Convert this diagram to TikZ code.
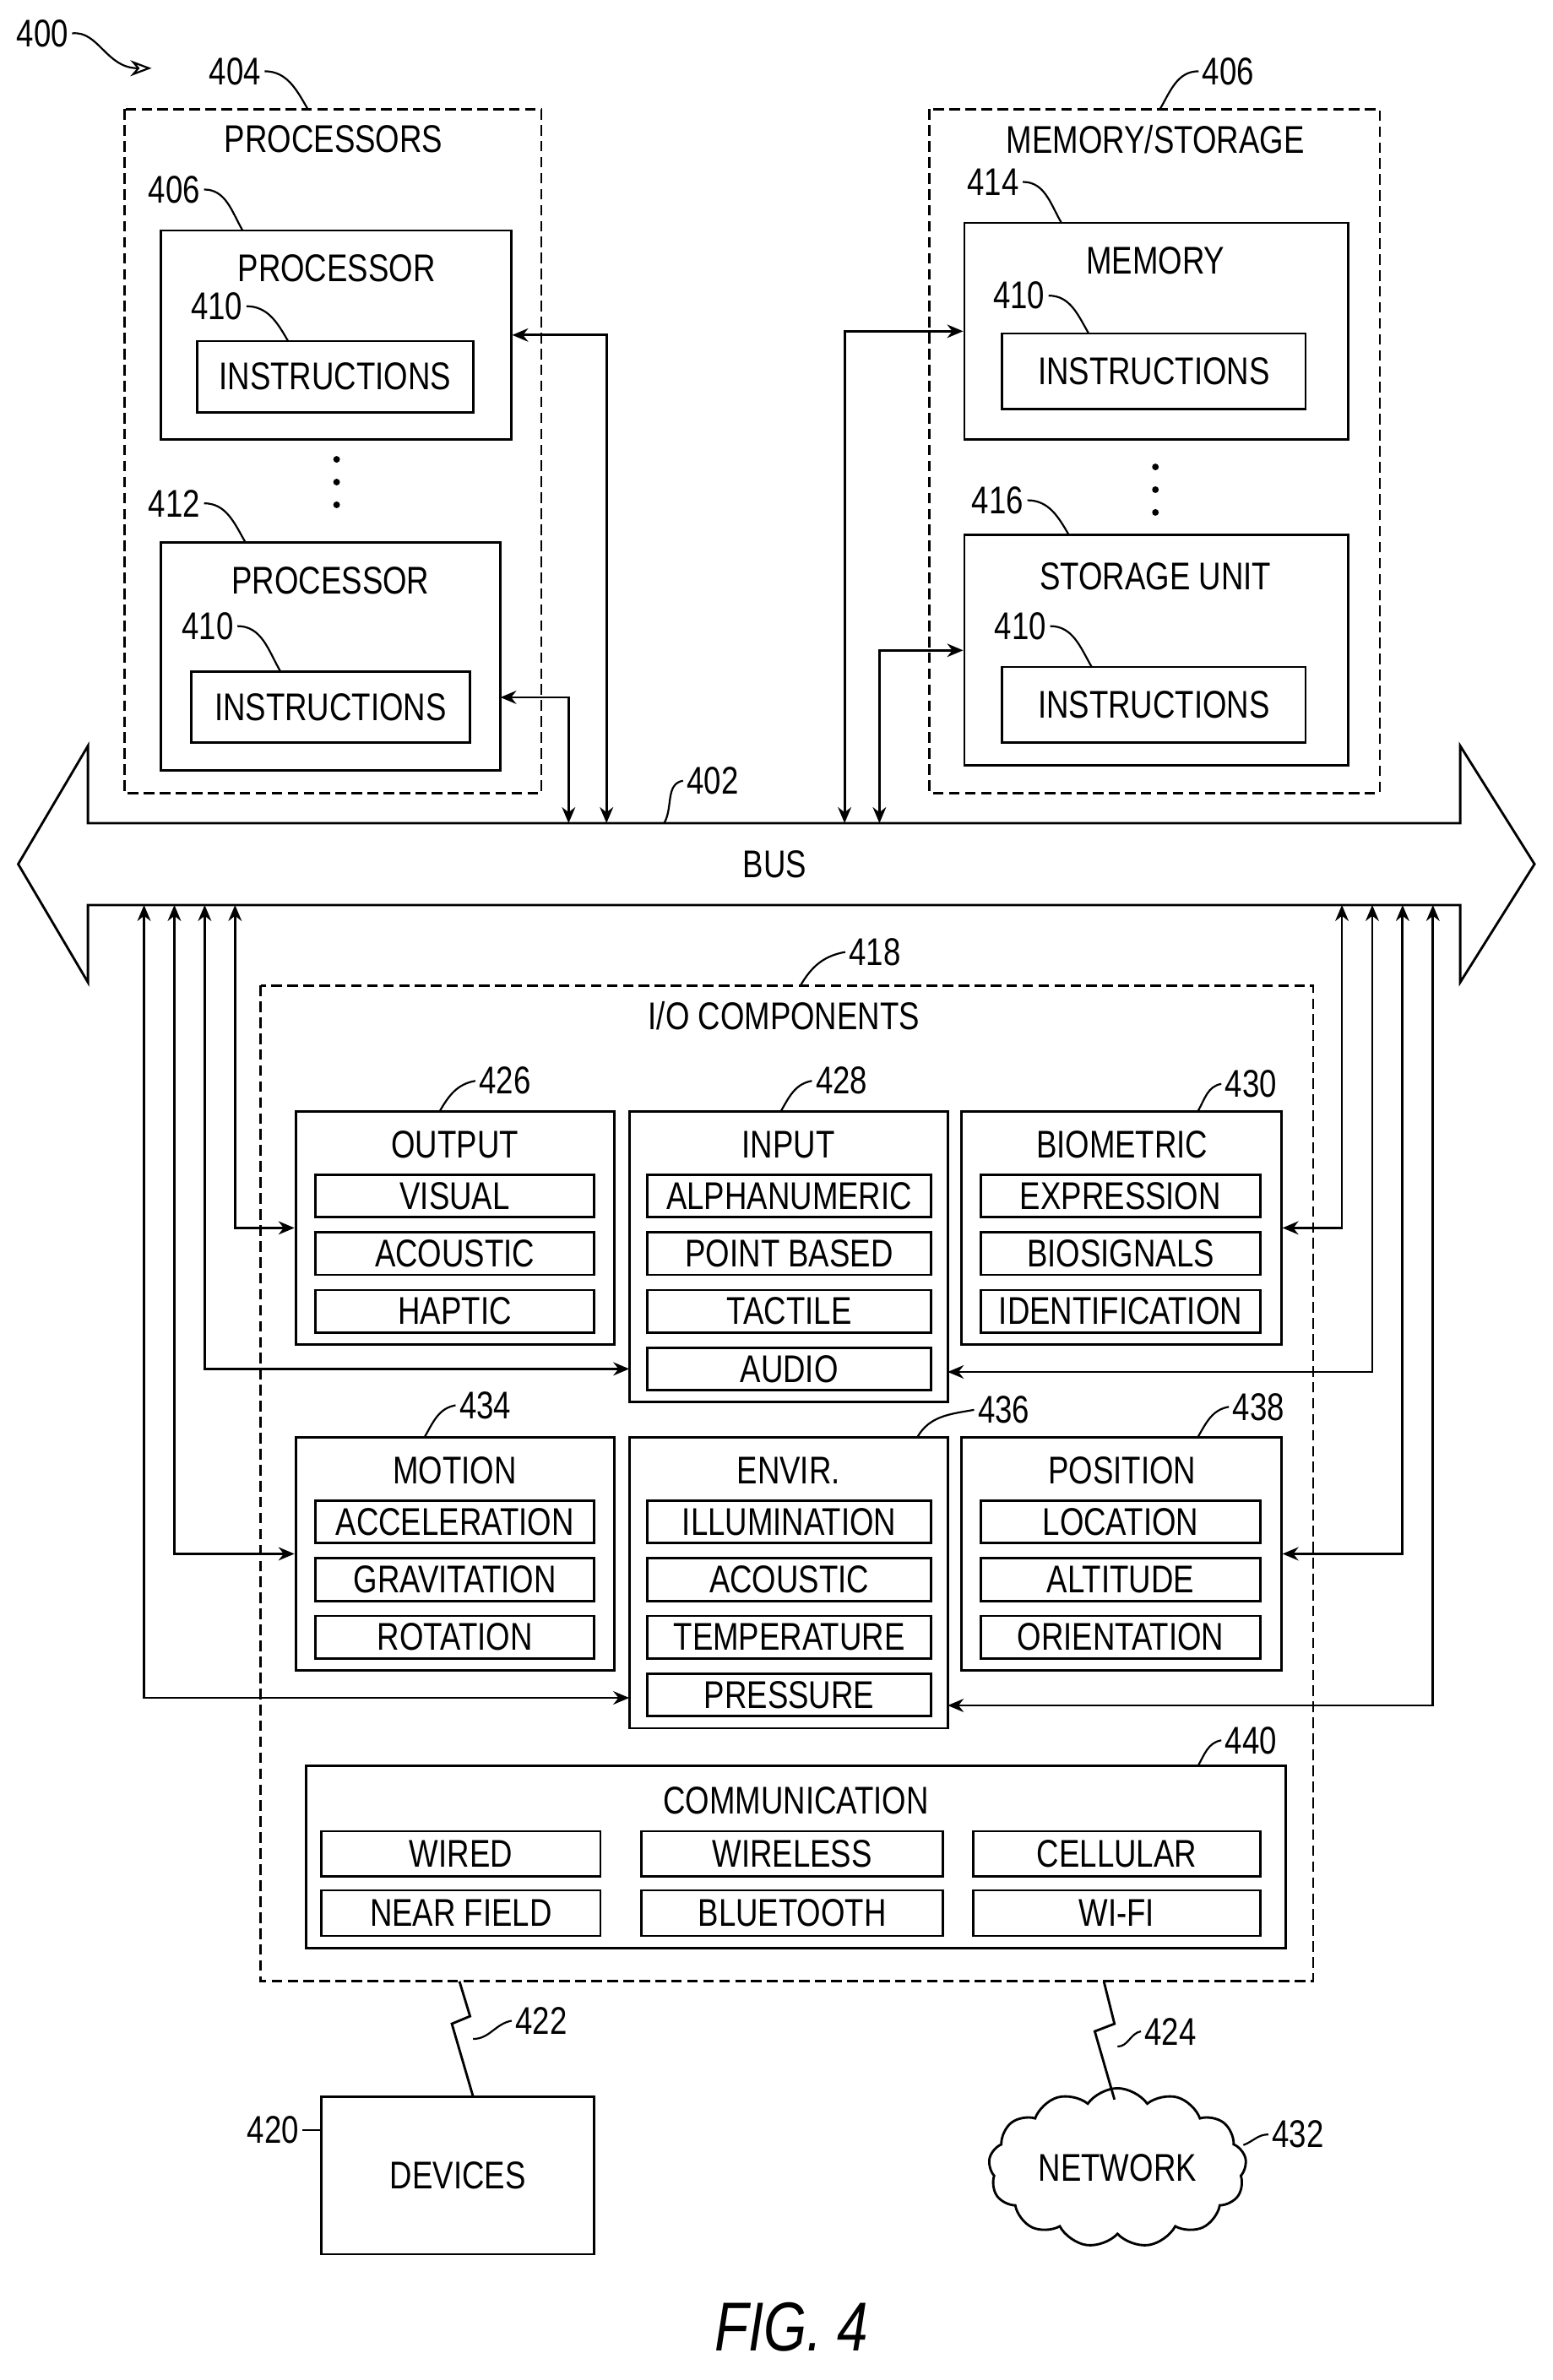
\documentclass[tikz,border=0pt]{standalone}
\usepackage{fontspec}
\setmainfont{Liberation Sans}[FakeStretch=0.8]
\usetikzlibrary{arrows.meta,shapes.symbols}
\newcommand{\bx}[6]{\node[box, minimum width={(#4-#2)*0.02cm}, minimum height={(#5-#3)*0.02cm}] (#1) at ({(#2+#4)/2},{(#3+#5)/2}) {#6};}

\begin{document}
\begin{tikzpicture}[x=0.02cm,y=-0.02cm, line width=0.9pt,
    box/.style={draw, inner sep=0pt, font=\fontsize{14.5}{16}\selectfont},
    lbl/.style={font=\fontsize{14.5}{16}\selectfont, inner sep=1pt},
    conn/.style={{Stealth[length=6pt,width=5pt]}-{Stealth[length=6pt,width=5pt]}},
    lead/.style={line width=0.7pt}]
  \useasboundingbox (0,0) rectangle (1024,1570);

  % reference arrow
  \node[lbl] (n400) at (28,22) {400};
  \draw[lead,-{Stealth[open,length=8pt]}] (n400.east) .. controls (65,20) and (70,45) .. (100,45);

  % processors
  \draw[dash pattern=on 4pt off 2pt] (82,72) rectangle (357,523);
  \node[lbl] at (220,92) {PROCESSORS};
  \node[lbl] (n404) at (155,47) {404};
  \draw[lead] (n404.east) to[out=0,in=120] (203,72);
  \bx{proc1}{106}{152}{337}{290}{}
  \node[lbl] at (222,177) {PROCESSOR};
  \bx{ins1}{130}{225}{312}{272}{INSTRUCTIONS}
  \node[lbl] (n406a) at (115,125) {406};
  \draw[lead] (n406a.east) to[out=0,in=120] (160,152);
  \node[lbl] (n410a) at (143,202) {410};
  \draw[lead] (n410a.east) to[out=0,in=120] (190,225);
  \foreach \y in {303,318,333} \fill (222,\y) circle (2.2);
  \bx{proc2}{106}{358}{330}{508}{}
  \node[lbl] at (218,383) {PROCESSOR};
  \bx{ins2}{126}{443}{310}{490}{INSTRUCTIONS}
  \node[lbl] (n412) at (115,332) {412};
  \draw[lead] (n412.east) to[out=0,in=120] (162,358);
  \node[lbl] (n410b) at (137,413) {410};
  \draw[lead] (n410b.east) to[out=0,in=120] (185,443);

  % memory / storage
  \draw[dash pattern=on 4pt off 2pt] (613,72) rectangle (910,523);
  \node[lbl] at (762,92) {MEMORY/STORAGE};
  \node[lbl] (n406b) at (810,47) {406};
  \draw[lead] (n406b.west) to[out=180,in=60] (765,72);
  \bx{mem}{636}{147}{889}{290}{}
  \node[lbl] at (762,172) {MEMORY};
  \bx{ins3}{661}{220}{861}{270}{INSTRUCTIONS}
  \node[lbl] (n414) at (655,120) {414};
  \draw[lead] (n414.east) to[out=0,in=120] (700,147);
  \node[lbl] (n410c) at (672,195) {410};
  \draw[lead] (n410c.east) to[out=0,in=120] (718,220);
  \foreach \y in {308,323,338} \fill (762,\y) circle (2.2);
  \bx{stor}{636}{353}{889}{505}{}
  \node[lbl] at (762,380) {STORAGE UNIT};
  \bx{ins4}{661}{440}{861}{490}{INSTRUCTIONS}
  \node[lbl] (n416) at (658,330) {416};
  \draw[lead] (n416.east) to[out=0,in=120] (705,353);
  \node[lbl] (n410d) at (673,413) {410};
  \draw[lead] (n410d.east) to[out=0,in=120] (720,440);

  % bus
  \draw (58,543) -- (58,492) -- (12,570) -- (58,648) -- (58,597) -- (963,597)
    -- (963,648) -- (1012,570) -- (963,492) -- (963,543) -- cycle;
  \node[lbl] at (511,570) {BUS};
  \node[lbl] (n402) at (470,515) {402};
  \draw[lead] (n402.west) to[out=190,in=60] (438,543);

  \coordinate (bp1) at (400,543);
  \coordinate (bp2) at (375,543);
  \coordinate (bm1) at (557,543);
  \coordinate (bm2) at (580,543);
  \coordinate (p2in) at (330,460);
  \draw[conn] (bp1) |- (proc1.east);
  \draw[conn] (bp2) |- (p2in);
  \draw[conn] (bm1) |- (mem.west);
  \draw[conn] (bm2) |- (stor.west);

  % I/O components
  \draw[dash pattern=on 4pt off 2pt] (172,650) rectangle (866,1307);
  \node[lbl] at (517,670) {I/O COMPONENTS};
  \node[lbl] (n418) at (577,628) {418};
  \draw[lead] (n418.west) to[out=190,in=60] (528,650);

  \bx{out}{195}{733}{405}{887}{}
  \node[lbl] at (300,755) {OUTPUT};
  \foreach \t [count=\i, evaluate=\i as \ya using 737+38*\i, evaluate=\i as \yb using 765+38*\i] in {VISUAL,ACOUSTIC,HAPTIC}
    {\bx{out\i}{208}{\ya}{392}{\yb}{\t}}
  \bx{inp}{415}{733}{625}{925}{}
  \node[lbl] at (520,755) {INPUT};
  \foreach \t [count=\i, evaluate=\i as \ya using 737+38*\i, evaluate=\i as \yb using 765+38*\i] in {ALPHANUMERIC,POINT BASED,TACTILE,AUDIO}
    {\bx{inp\i}{427}{\ya}{614}{\yb}{\t}}
  \bx{bio}{634}{733}{845}{887}{}
  \node[lbl] at (740,755) {BIOMETRIC};
  \foreach \t [count=\i, evaluate=\i as \ya using 737+38*\i, evaluate=\i as \yb using 765+38*\i] in {EXPRESSION,BIOSIGNALS,IDENTIFICATION}
    {\bx{bio\i}{647}{\ya}{831}{\yb}{\t}}

  \bx{mot}{195}{948}{405}{1102}{}
  \node[lbl] at (300,970) {MOTION};
  \foreach \t [count=\i, evaluate=\i as \ya using 952+38*\i, evaluate=\i as \yb using 980+38*\i] in {ACCELERATION,GRAVITATION,ROTATION}
    {\bx{mot\i}{208}{\ya}{392}{\yb}{\t}}
  \bx{env}{415}{948}{625}{1140}{}
  \node[lbl] at (520,970) {ENVIR.};
  \foreach \t [count=\i, evaluate=\i as \ya using 952+38*\i, evaluate=\i as \yb using 980+38*\i] in {ILLUMINATION,ACOUSTIC,TEMPERATURE,PRESSURE}
    {\bx{env\i}{427}{\ya}{614}{\yb}{\t}}
  \bx{pos}{634}{948}{845}{1102}{}
  \node[lbl] at (740,970) {POSITION};
  \foreach \t [count=\i, evaluate=\i as \ya using 952+38*\i, evaluate=\i as \yb using 980+38*\i] in {LOCATION,ALTITUDE,ORIENTATION}
    {\bx{pos\i}{647}{\ya}{831}{\yb}{\t}}

  \node[lbl] (n426) at (333,713) {426};
  \draw[lead] (n426.west) to[out=190,in=60] (290,733);
  \node[lbl] (n428) at (555,713) {428};
  \draw[lead] (n428.west) to[out=190,in=60] (515,733);
  \node[lbl] (n430) at (825,715) {430};
  \draw[lead] (n430.west) to[out=190,in=60] (790,733);
  \node[lbl] (n434) at (320,927) {434};
  \draw[lead] (n434.west) to[out=190,in=60] (280,948);
  \node[lbl] (n436) at (662,930) {436};
  \draw[lead] (n436.west) to[out=190,in=60] (605,948);
  \node[lbl] (n438) at (830,928) {438};
  \draw[lead] (n438.west) to[out=190,in=60] (790,948);

  \bx{com}{202}{1165}{848}{1285}{}
  \node[lbl] at (525,1188) {COMMUNICATION};
  \bx{com1}{212}{1208}{396}{1238}{WIRED}
  \bx{com2}{423}{1208}{622}{1238}{WIRELESS}
  \bx{com3}{642}{1208}{831}{1238}{CELLULAR}
  \bx{com4}{212}{1247}{396}{1277}{NEAR FIELD}
  \bx{com5}{423}{1247}{622}{1277}{BLUETOOTH}
  \bx{com6}{642}{1247}{831}{1277}{WI-FI}
  \node[lbl] (n440) at (825,1148) {440};
  \draw[lead] (n440.west) to[out=190,in=60] (790,1165);

  % bus to I/O
  \foreach \x in {95,115,135,155,885,905,925,945} \coordinate (b\x) at (\x,597);
  \coordinate (inpL) at (415,903);
  \coordinate (inpR) at (625,905);
  \coordinate (envL) at (415,1120);
  \coordinate (envR) at (625,1125);
  \draw[conn] (b155) |- (out.west);
  \draw[conn] (b135) |- (inpL);
  \draw[conn] (b115) |- (mot.west);
  \draw[conn] (b95) |- (envL);
  \draw[conn] (b885) |- (bio.east);
  \draw[conn] (b905) |- (inpR);
  \draw[conn] (b925) |- (pos.east);
  \draw[conn] (b945) |- (envR);

  % devices and network
  \bx{dev}{212}{1383}{392}{1487}{DEVICES}
  \node[lbl] (n420) at (180,1405) {420};
  \draw[lead] (n420.east) -- (212,1405);
  \node[cloud, draw, cloud puffs=13, cloud puff arc=110, aspect=1.7,
    minimum width=3.4cm, minimum height=2.1cm, inner sep=0pt,
    font=\fontsize{14.5}{16}\selectfont] (net) at (737,1430) {NETWORK};
  \node[lbl] (n432) at (856,1408) {432};
  \draw[lead] (n432.west) to[out=180,in=20] (820,1415);

  \coordinate (z1) at (303,1307);
  \coordinate (z2) at (728,1307);
  \draw (z1) -- (310,1330) -- (298,1335) -- (312,1383);
  \draw (z2) -- (735,1335) -- (722,1340) -- (735,1385);
  \node[lbl] (n422) at (357,1333) {422};
  \draw[lead] (n422.west) to[out=190,in=0] (312,1345);
  \node[lbl] (n424) at (772,1340) {424};
  \draw[lead] (n424.west) to[out=190,in=0] (737,1350);

  \node[font=\fontsize{26}{30}\selectfont\itshape] at (522,1535) {FIG. 4};
\end{tikzpicture}
\end{document}
